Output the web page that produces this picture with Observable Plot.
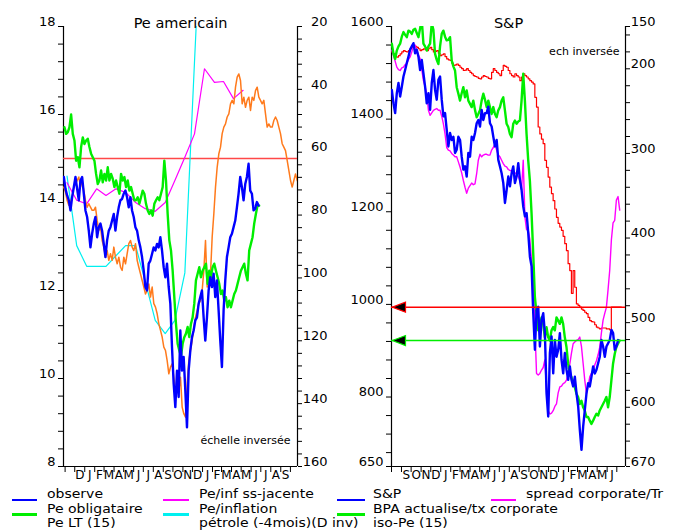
<!DOCTYPE html>
<html>
<head>
<meta charset="utf-8">
<script src="https://cdn.jsdelivr.net/npm/d3@7"></script>
<script src="https://cdn.jsdelivr.net/npm/@observablehq/plot@0.6"></script>
<style>
  html, body { margin: 0; padding: 0; background: #fff; }
  #page { position: relative; width: 686px; height: 530px; overflow: hidden; font-family: "DejaVu Sans", sans-serif; color: #000; }
  .panel { position: absolute; top: 0; }
  .lg-text { position: absolute; font-size: 12.5px; line-height: normal; white-space: nowrap; transform: scaleX(1.12); transform-origin: 0 50%; }
  .lg-swatch { position: absolute; height: 2.5px; }
</style>
</head>
<body>
<div id="page"></div>
<script>
// ---------- Left panel: US P/E ratios (left axis) and oil price, 4 months ahead, inverted (right axis)
const peObserved = [
  14.58, 14.31, 14.16, 14.05, 13.82, 14.12, 14.35, 14.58, 14.31, 14.05,
  14.50, 14.58, 14.20, 13.82, 13.67, 13.36, 12.98, 13.29, 13.52, 13.67,
  13.21, 13.44, 13.52, 13.36, 13.06, 12.76, 13.14, 13.36, 13.44, 13.59,
  13.74, 13.36, 13.67, 13.89, 14.05, 14.08, 14.20, 14.27, 14.12, 13.89,
  14.12, 13.82, 13.67, 13.44, 13.36, 13.14, 12.98, 12.76, 12.45, 12.08,
  12.00, 12.61, 12.68, 12.83, 12.98, 12.91, 13.06, 12.98, 13.21, 12.91,
  12.53, 12.30, 12.61, 12.08, 11.70, 10.71, 9.88, 9.35, 10.18, 9.58,
  11.09, 10.18, 10.49, 9.73, 8.89, 10.18, 10.64, 10.94, 11.09, 11.32,
  11.39, 11.70, 11.85, 12.00, 11.39, 10.86, 11.39, 12.00, 12.30, 12.08,
  12.38, 11.85, 12.23, 11.55, 10.86, 10.26, 11.55, 12.23, 12.76, 12.98,
  13.21, 13.29, 13.44, 13.59, 13.89, 14.20, 14.58, 14.35, 14.05, 14.42,
  14.58, 14.88, 14.27, 14.20, 13.82, 13.86, 14.01, 13.93
];
const peObservedSpan = ["2007-10-28", "2009-06-24"];

const peBond = [
  15.71, 15.56, 15.60, 15.71, 16.00, 15.56, 15.41, 14.95, 15.03, 14.80,
  15.26, 15.48, 15.33, 15.41, 15.45, 15.26, 15.11, 15.03, 14.95, 14.65,
  14.42, 14.50, 14.73, 14.46, 14.65, 14.50, 14.80, 14.50, 14.65, 14.54,
  14.35, 14.50, 14.35, 14.20, 14.65, 14.50, 14.58, 14.35, 14.50, 14.27,
  14.35, 14.20, 14.05, 14.05, 14.12, 13.97, 14.12, 14.27, 14.20, 13.97,
  13.82, 13.74, 13.82, 13.70, 13.97, 14.05, 14.12, 14.05, 14.20, 14.35,
  14.95,
  14.50, 13.74, 13.14, 12.91, 12.45, 11.85, 11.24, 10.79, 10.64, 10.50,
  10.79, 10.94, 11.02, 11.17, 10.94, 11.24, 11.39, 11.70, 12.23, 12.38,
  12.53, 12.30, 12.45, 12.53, 12.61, 12.15, 12.45, 12.30, 12.53, 12.61,
  12.45, 12.30, 12.15, 11.92, 12.00, 11.77, 11.85, 11.62, 11.77, 11.62,
  11.77, 11.92, 12.00, 12.15, 12.30, 12.45, 12.53, 12.61, 12.38, 12.23,
  12.91, 13.06, 13.21, 13.52, 13.74, 13.93, 13.93
];
const peBondSpan = ["2007-10-30", "2009-06-26"];

// monthly series
const peCoreInflation = [14.45, 14.05, 13.97, 14.31, 14.16, 14.31, 14.23, 14.00, 13.86, 13.80,
  14.00, 14.50, 15.03, 15.56, 17.04, 16.73, 16.75, 16.36, 16.55];
const peCoreInflationStart = "2007-11-07";
const peInflation = [14.60, 13.02, 12.55, 12.55, 12.55, 12.79, 13.02, 13.02, 12.20, 11.32,
  11.02, 11.32, 12.40, 17.20, 22.00];
const peInflationStart = "2007-11-07";

const peLongTerm = 15;

// oil price in $ shifted 4 months forward (read on the inverted right axis)
const oilShifted = [
  71.1, 72.7, 75.4, 76.9, 75.9, 74.3, 71.1, 70.1, 69.0, 67.9,
  71.1, 69.0, 72.2, 75.4, 77.5, 76.4, 77.5, 78.5, 78.5, 77.5,
  81.7, 84.9, 83.8, 88.1, 90.2, 93.4, 91.3, 94.4, 92.3, 94.4,
  90.2, 93.4, 95.5, 93.4, 96.6, 97.6, 93.4, 95.5, 92.3, 89.1,
  88.1, 90.2, 91.3, 89.1, 94.4, 96.6, 98.7, 100.8, 102.9, 105.1,
  104.0, 101.9, 106.1, 102.9, 108.2, 109.3, 111.4, 114.6, 116.7, 118.8,
  122.0, 123.1, 126.3, 130.5, 128.4, 127.3, 131.6, 135.8, 133.7, 135.8,
  131.6, 141.1, 143.2, 144.3, 133.7, 126.3, 123.1, 119.9, 115.7, 112.5,
  110.4, 108.2, 107.2, 104.0, 97.6, 88.1, 102.9, 99.7, 98.7, 87.0,
  79.6, 71.1, 64.8, 60.5, 58.4, 54.1, 52.0, 51.0, 48.8, 47.8,
  44.6, 43.5, 44.6, 39.3, 36.1, 35.1, 37.2, 44.6, 42.5, 45.7,
  43.5, 42.5, 46.7, 42.5, 43.5, 40.4, 39.3, 42.5, 43.5, 44.6,
  43.5, 47.8, 52.0, 51.0, 52.0, 52.0, 49.9, 48.8, 49.9, 52.0,
  54.1, 57.3, 58.4, 59.5, 62.6, 65.8, 69.0, 71.1, 69.0, 66.9,
  69.0
];
const oilShiftedSpan = ["2007-10-28", "2009-10-22"];

const peTicks = [8, 10, 12, 14, 16, 18];
const oilTicks = [20, 40, 60, 80, 100, 120, 140, 160];
const leftDomain = ["2007-10-27", "2009-10-23"];
const leftMonthLabels = ["2007-12-01", "2009-10-01"]; // D ... S

// ---------- Right panel: S&P 500, discounted EPS, iso-P/E and corporate spread (inverted right axis)
const spx = [
  1463, 1434, 1413, 1456, 1478, 1449, 1470, 1492, 1506, 1521,
  1535, 1550, 1557, 1564, 1542, 1550, 1535, 1506, 1528, 1499,
  1470, 1434, 1456, 1420, 1478, 1506, 1463, 1442, 1485, 1492,
  1442, 1406, 1413, 1377, 1341, 1370, 1355, 1362, 1327, 1334,
  1362, 1355, 1319, 1291, 1298, 1276, 1327, 1319, 1362, 1355,
  1370, 1391, 1398, 1384, 1420, 1398, 1413, 1413, 1427, 1391,
  1384, 1362, 1341, 1355, 1312, 1298, 1283, 1262, 1219, 1247,
  1276, 1255, 1283, 1298, 1262, 1276, 1305, 1269, 1247, 1211,
  1190, 1197, 1154, 1103, 1082, 981, 902, 988, 995, 909,
  967, 981, 938, 808, 758, 895, 931, 851, 923, 887,
  902, 938, 880, 851, 895, 859, 837, 866, 837, 823,
  844, 808, 780, 729, 686, 736, 772, 808, 830, 823,
  844, 866, 851, 859, 873, 887, 923, 909, 887, 909,
  916, 923, 945, 938, 902, 909, 923
];
const spxSpan = ["2007-08-02", "2009-07-05"];

const discountedEps = [
  1563, 1541, 1530, 1548, 1557, 1563, 1578, 1588, 1582, 1577,
  1591, 1589, 1584, 1593, 1595, 1586, 1577, 1596, 1614, 1563,
  1557, 1548, 1557, 1563, 1607, 1593, 1541, 1528, 1519, 1557,
  1584, 1591, 1578, 1570, 1571, 1577, 1527, 1514, 1505, 1469,
  1455, 1440, 1456, 1469, 1447, 1462, 1440, 1433, 1426, 1440,
  1420, 1404, 1411, 1419, 1440, 1455, 1442, 1426, 1440, 1426,
  1411, 1426, 1411, 1404, 1419, 1426, 1440, 1447, 1419, 1390,
  1383, 1368, 1361, 1390, 1397, 1390, 1395, 1397, 1440, 1498,
  1440, 1368, 1311, 1267, 1197, 1111, 1016, 980, 944, 951,
  972, 958, 929, 951, 929, 922, 944, 951, 944, 972,
  965, 958, 972, 958, 929, 908, 872, 850, 843, 828,
  821, 807, 800, 785, 792, 778, 771, 757, 757, 749,
  742, 749, 757, 764, 760, 771, 778, 785, 792, 800,
  778, 800, 836, 872, 893, 908, 915, 922
];
const discountedEpsSpan = ["2007-08-02", "2009-07-10"];

const isoPe = [
  1545, 1541, 1535, 1534, 1537, 1541, 1545, 1548, 1546, 1545,
  1548, 1552, 1555, 1559, 1557, 1555, 1552, 1548, 1550, 1552,
  1550, 1548, 1552, 1555, 1550, 1545, 1546, 1548, 1542, 1537,
  1539, 1541, 1535, 1530, 1528, 1527, 1521, 1516, 1517, 1519,
  1516, 1512, 1509, 1505, 1506, 1509, 1505, 1501, 1498, 1494,
  1492, 1491, 1488, 1487, 1491, 1494, 1492, 1491, 1488, 1487,
  1501, 1509, 1505, 1501, 1498, 1494, 1505, 1516, 1514, 1512,
  1505, 1498, 1494, 1491, 1498, 1494, 1491, 1483, 1491, 1498,
  1494, 1491, 1487, 1483, 1480, 1476, 1447, 1426, 1383, 1368,
  1357, 1347, 1311, 1296, 1275, 1253, 1239, 1224, 1206, 1188,
  1175, 1167, 1160, 1147, 1131, 1116, 1088, 1073, 1024, 1073,
  1037, 1001, 998, 994, 990, 987, 983, 980, 972, 965,
  963, 962, 956, 951, 949, 947, 949, 949, 949, 947,
  947, 945, 994, 994, 994, 994, 994, 994, 994
];
const isoPeSpan = ["2007-08-02", "2009-07-15"];

// corporate / Treasury spread, basis points (inverted right axis)
const corpSpread = [
  178, 184, 191, 198, 201, 202, 199, 198, 195, 194,
  189, 186, 180, 174, 172, 178, 184, 188, 201, 214,
  221, 230, 249, 255, 252, 249, 248, 247, 249, 249,
  256, 265, 277, 293, 296, 297, 300, 302, 304, 304,
  310, 316, 323, 332, 340, 347, 341, 338, 335, 337,
  336, 324, 308, 301, 304, 302, 301, 301, 302, 302,
  296, 293, 289, 296, 302, 304, 308, 312, 315, 316,
  319, 320, 321, 323, 323, 324, 327, 332, 343, 308,
  375, 390, 391, 402, 426, 450, 505, 560, 562, 560,
  556, 553, 544, 580, 604, 608, 607, 604, 599, 596,
  583, 576, 575, 572, 571, 568, 560, 549, 536, 525,
  523, 521, 520, 517, 528, 548, 568, 584, 575, 564,
  560, 557, 550, 545, 538, 529, 512, 497, 489, 482,
  461, 438, 402, 382, 379, 355, 351, 367
];
const corpSpreadSpan = ["2007-08-02", "2009-07-10"];

const spxTicks = [650, 800, 1000, 1200, 1400, 1600];
const spreadTicks = [150, 200, 300, 400, 500, 600, 670];
const rightDomain = ["2007-08-01", "2009-07-28"];
const rightMonthLabels = ["2007-09-01", "2009-07-01"]; // S ... J

// ---------- helpers
const monthLetters = "JFMAMJJASOND";
const BLUE = "#0000ff", GREEN = "#00ee00", MAGENTA = "#ff00ff", CYAN = "#00f0f0",
      ORANGE = "#ff7a1c", RED = "#ff0000", RED_SOFT = "#ff4848";

function spread(values, [start, end]) {
  const t0 = Date.parse(start), t1 = Date.parse(end), n = values.length;
  return values.map((value, i) => ({date: new Date(t0 + (t1 - t0) * i / (n - 1)), value}));
}
function monthly(values, start) {
  const t0 = new Date(start);
  return values.map((value, i) => ({date: d3.utcMonth.offset(t0, i), value}));
}
const toDates = (pair) => pair.map((s) => new Date(s));
function monthMarks(domain, labelRange) {
  const [d0, d1] = toDates(domain);
  const starts = d3.utcMonth.range(d0, d1);
  const [l0, l1] = toDates(labelRange);
  const mids = d3.utcMonth.range(l0, l1).map((m) => new Date((+m + +d3.utcMonth.offset(m, 1)) / 2));
  return {starts, mids};
}

// left-pointing marker used for the level arrows
const leftArrow = {
  draw(context) {
    context.moveTo(-6.5, 0);
    context.lineTo(6.5, -5);
    context.lineTo(6.5, 5);
    context.closePath();
  }
};

const baseStyle = {fontFamily: "DejaVu Sans, sans-serif", fontSize: "13px", color: "#000", background: "transparent", overflow: "visible"};

// ---------- left chart
const oilToPe = (v) => 18 - (v - 20) / 14;
const leftMonths = monthMarks(leftDomain, leftMonthLabels);
const [lx0, lx1] = toDates(leftDomain);

const leftChart = Plot.plot({
  width: 343, height: 486,
  marginLeft: 63, marginRight: 46, marginTop: 26, marginBottom: 20,
  style: baseStyle,
  x: {type: "utc", domain: [lx0, lx1], axis: null, label: null},
  y: {domain: [8, 18], axis: null, label: null},
  marks: [
    Plot.axisY(d3.range(8, 18.001, 0.4), {anchor: "left", tickSize: 5, tickFormat: () => "", label: null}),
    Plot.text(peTicks, {y: (d) => d, frameAnchor: "left", textAnchor: "end", dx: -8, dy: -5, text: (d) => String(d)}),
    Plot.axisY(d3.range(20, 160.1, 4).map(oilToPe), {anchor: "right", tickSize: 4, tickFormat: () => "", label: null}),
    Plot.text(oilTicks, {y: oilToPe, frameAnchor: "right", textAnchor: "end", dx: 30, dy: -5, text: (d) => String(d)}),
    Plot.axisX(leftMonths.starts, {anchor: "bottom", tickSize: 6, tickFormat: () => "", label: null}),
    Plot.text(leftMonths.mids, {x: (d) => d, frameAnchor: "bottom", dy: 12, fontSize: 12, text: (d) => monthLetters[d.getUTCMonth()]}),
    Plot.ruleX([lx0, lx1], {stroke: "#000", strokeWidth: 1.2}),
    Plot.ruleY([8], {stroke: "#000", strokeWidth: 1.2}),
    Plot.ruleY([peLongTerm], {stroke: RED_SOFT, strokeWidth: 1.6}),
    Plot.line(monthly(peInflation, peInflationStart), {x: "date", y: "value", stroke: CYAN, strokeWidth: 1.2, clip: true}),
    Plot.line(monthly(peCoreInflation, peCoreInflationStart), {x: "date", y: "value", stroke: MAGENTA, strokeWidth: 1.2, clip: true}),
    Plot.line(spread(oilShifted, oilShiftedSpan), {x: "date", y: (d) => oilToPe(d.value), stroke: ORANGE, strokeWidth: 1.5, clip: true}),
    Plot.line(spread(peBond, peBondSpan), {x: "date", y: "value", stroke: GREEN, strokeWidth: 2.4, clip: true}),
    Plot.line(spread(peObserved, peObservedSpan), {x: "date", y: "value", stroke: BLUE, strokeWidth: 2.4, clip: true}),
    Plot.text(["Pe americain"], {frameAnchor: "top", dy: -9, fontSize: 14.5}),
    Plot.text(["échelle inversée"], {frameAnchor: "bottom-right", textAnchor: "end", dx: -7, dy: -23, fontSize: 11})
  ]
});

// ---------- right chart
const spreadToSpx = (v) => 1600 - (v - 150) * 950 / 520;
const rightMonths = monthMarks(rightDomain, rightMonthLabels);
const [rx0, rx1] = toDates(rightDomain);
const isoPeLast = isoPe[isoPe.length - 1];
const epsLast = discountedEps[discountedEps.length - 1];

const rightChart = Plot.plot({
  width: 343, height: 486,
  marginLeft: 48, marginRight: 61, marginTop: 26, marginBottom: 20,
  style: baseStyle,
  x: {type: "utc", domain: [rx0, rx1], axis: null, label: null},
  y: {domain: [650, 1600], axis: null, label: null},
  marks: [
    Plot.axisY([...d3.range(1600, 679, -40), 650], {anchor: "left", tickSize: 5, tickFormat: () => "", label: null}),
    Plot.text(spxTicks, {y: (d) => d, frameAnchor: "left", textAnchor: "end", dx: -8, dy: -5, text: (d) => String(d)}),
    Plot.axisY([150, ...d3.range(160, 661, 20), 670].map(spreadToSpx), {anchor: "right", tickSize: 4, tickFormat: () => "", label: null}),
    Plot.text(spreadTicks, {y: spreadToSpx, frameAnchor: "right", textAnchor: "end", dx: 30, dy: -5, text: (d) => String(d)}),
    Plot.axisX(rightMonths.starts, {anchor: "bottom", tickSize: 6, tickFormat: () => "", label: null}),
    Plot.text(rightMonths.mids, {x: (d) => d, frameAnchor: "bottom", dy: 12, fontSize: 12, text: (d) => monthLetters[d.getUTCMonth()]}),
    Plot.ruleX([rx0, rx1], {stroke: "#000", strokeWidth: 1.2}),
    Plot.ruleY([650], {stroke: "#000", strokeWidth: 1.2}),
    Plot.line(spread(isoPe, isoPeSpan), {x: "date", y: "value", stroke: RED, strokeWidth: 1.2, curve: "step-after", clip: true}),
    Plot.line(spread(corpSpread, corpSpreadSpan), {x: "date", y: (d) => spreadToSpx(d.value), stroke: MAGENTA, strokeWidth: 1.4, clip: true}),
    Plot.line(spread(discountedEps, discountedEpsSpan), {x: "date", y: "value", stroke: GREEN, strokeWidth: 2.4, clip: true}),
    Plot.line(spread(spx, spxSpan), {x: "date", y: "value", stroke: BLUE, strokeWidth: 2.4, clip: true}),
    Plot.ruleY([isoPeLast], {stroke: RED, strokeWidth: 1.5}),
    Plot.ruleY([epsLast], {stroke: GREEN, strokeWidth: 1.5}),
    Plot.dot([isoPeLast], {x: () => rx0, y: (d) => d, symbol: leftArrow, fill: "#000", stroke: RED, strokeWidth: 1.2, dx: 7.5}),
    Plot.dot([epsLast], {x: () => rx0, y: (d) => d, symbol: leftArrow, fill: "#000", stroke: GREEN, strokeWidth: 1.2, dx: 7.5}),
    Plot.text(["S&P"], {frameAnchor: "top", dy: -9, fontSize: 14.5}),
    Plot.text(["ech inversée"], {frameAnchor: "top-right", textAnchor: "end", dx: -6, dy: 21, fontSize: 11})
  ]
});

const page = document.getElementById("page");
for (const [chart, left] of [[leftChart, 0], [rightChart, 343]]) {
  chart.classList.add("panel");
  chart.style.left = left + "px";
  page.appendChild(chart);
}

// ---------- legend (four columns under the two charts)
const legendColumns = [
  {swatchX: 12, swatchW: 25, textX: 47, items: [["observe", BLUE], ["Pe obligataire", GREEN], ["Pe LT (15)", null]]},
  {swatchX: 163, swatchW: 26, textX: 199, items: [["Pe/inf ss-jacente", MAGENTA], ["Pe/inflation", CYAN], ["pétrole (-4mois)(D inv)", null]]},
  {swatchX: 337, swatchW: 28, textX: 373, items: [["S&P", BLUE], ["BPA actualise/tx corporate", GREEN], ["iso-Pe (15)", null]]},
  {swatchX: 491, swatchW: 25, textX: 526, items: [["spread corporate/Tr", MAGENTA]]}
];
const rowTop = [486.2, 500.8, 515.4];
const swatchTop = [498.5, 513];
legendColumns.forEach((col) => {
  col.items.forEach(([label, color], row) => {
    if (color) {
      const sw = document.createElement("div");
      sw.className = "lg-swatch";
      Object.assign(sw.style, {left: col.swatchX + "px", top: swatchTop[row] + "px", width: col.swatchW + "px", background: color});
      page.appendChild(sw);
    }
    const tx = document.createElement("div");
    tx.className = "lg-text";
    tx.textContent = label;
    Object.assign(tx.style, {left: col.textX + "px", top: rowTop[row] + "px"});
    page.appendChild(tx);
  });
});
</script>
</body>
</html>
